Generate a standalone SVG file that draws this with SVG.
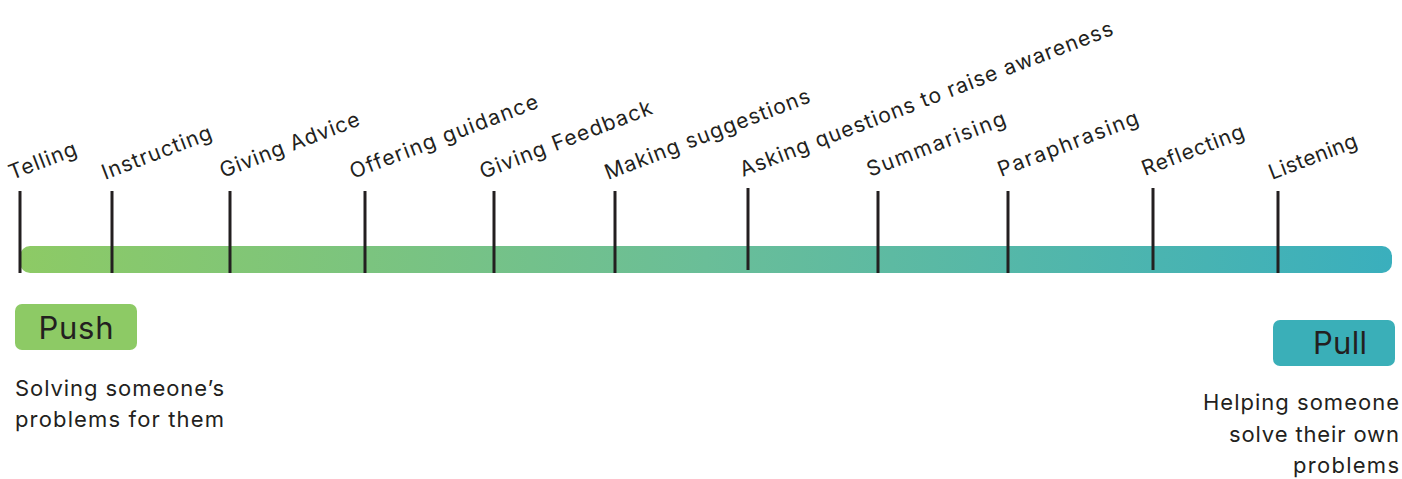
<svg xmlns="http://www.w3.org/2000/svg" width="1402" height="479" viewBox="0 0 1402 479">
  <defs>
    <linearGradient id="scale" x1="20" y1="0" x2="1392" y2="0" gradientUnits="userSpaceOnUse">
      <stop offset="0" stop-color="#8DCA65"/>
      <stop offset="0.5" stop-color="#6ABE98"/>
      <stop offset="1" stop-color="#3AAFBD"/>
    </linearGradient>
    <style>
      .tick { stroke: #231F20; stroke-width: 3; fill: none; }
      .lbl { font-family: Inter, "Liberation Sans", sans-serif; font-size: 21px; fill: #231F20; }
      .tag { font-family: Inter, "Liberation Sans", sans-serif; font-size: 31px; fill: #231F20; text-anchor: middle; }
      .desc { font-family: Inter, "Liberation Sans", sans-serif; font-size: 22px; fill: #231F20; }
    </style>
  </defs>
  <rect width="1402" height="479" fill="#FFFFFF"/>

  <!-- continuum bar -->
  <g id="scale-bar">
    <rect x="20" y="246" width="1372" height="27" rx="10" ry="10" fill="url(#scale)"/>
  </g>

  <!-- stages along the continuum: marker line + slanted label -->
  <g id="stage-telling">
    <line class="tick" x1="20" y1="191" x2="20" y2="273"/>
    <text class="lbl" x="12" y="180" textLength="71" transform="rotate(-21 12 180)">Telling</text>
  </g>
  <g id="stage-instructing">
    <line class="tick" x1="112" y1="191" x2="112" y2="273"/>
    <text class="lbl" x="105" y="180" textLength="116" transform="rotate(-21 105 180)">Instructing</text>
  </g>
  <g id="stage-giving-advice">
    <line class="tick" x1="230" y1="191" x2="230" y2="273"/>
    <text class="lbl" x="223" y="178" textLength="148" transform="rotate(-21 223 178)">Giving Advice</text>
  </g>
  <g id="stage-offering-guidance">
    <line class="tick" x1="365" y1="191" x2="365" y2="273"/>
    <text class="lbl" x="353" y="179" textLength="200" transform="rotate(-21 353 179)">Offering guidance</text>
  </g>
  <g id="stage-giving-feedback">
    <line class="tick" x1="494" y1="191" x2="494" y2="273"/>
    <text class="lbl" x="483" y="179" textLength="183" transform="rotate(-21 483 179)">Giving Feedback</text>
  </g>
  <g id="stage-making-suggestions">
    <line class="tick" x1="615" y1="191" x2="615" y2="273"/>
    <text class="lbl" x="608" y="180" textLength="218" transform="rotate(-21 608 180)">Making suggestions</text>
  </g>
  <g id="stage-asking-questions">
    <line class="tick" x1="748" y1="188" x2="748" y2="270"/>
    <text class="lbl" x="743" y="177" textLength="398" transform="rotate(-21 743 177)">Asking questions to raise awareness</text>
  </g>
  <g id="stage-summarising">
    <line class="tick" x1="878" y1="191" x2="878" y2="273"/>
    <text class="lbl" x="870" y="177" textLength="147" transform="rotate(-21 870 177)">Summarising</text>
  </g>
  <g id="stage-paraphrasing">
    <line class="tick" x1="1008" y1="191" x2="1008" y2="273"/>
    <text class="lbl" x="1001" y="177" textLength="149" transform="rotate(-21 1001 177)">Paraphrasing</text>
  </g>
  <g id="stage-reflecting">
    <line class="tick" x1="1153" y1="188" x2="1153" y2="270"/>
    <text class="lbl" x="1145" y="176" textLength="108" transform="rotate(-21 1145 176)">Reflecting</text>
  </g>
  <g id="stage-listening">
    <line class="tick" x1="1278" y1="191" x2="1278" y2="273"/>
    <text class="lbl" x="1272" y="180" textLength="93" transform="rotate(-21 1272 180)">Listening</text>
  </g>

  <!-- push end -->
  <g id="push">
    <rect x="15" y="304" width="122" height="46" rx="7" ry="7" fill="#8DCA65"/>
    <text class="tag" x="76" y="339" textLength="75">Push</text>
    <text class="desc" x="15" y="396" textLength="209">Solving someone’s</text>
    <text class="desc" x="15" y="427" textLength="209">problems for them</text>
  </g>

  <!-- pull end -->
  <g id="pull">
    <rect x="1273" y="320" width="122" height="46" rx="7" ry="7" fill="#3AAFB8"/>
    <text class="tag" x="1340" y="354" textLength="54">Pull</text>
    <text class="desc" x="1399" y="410" text-anchor="end" textLength="196">Helping someone</text>
    <text class="desc" x="1399" y="442" text-anchor="end" textLength="170">solve their own</text>
    <text class="desc" x="1399" y="473" text-anchor="end" textLength="106">problems</text>
  </g>
</svg>
